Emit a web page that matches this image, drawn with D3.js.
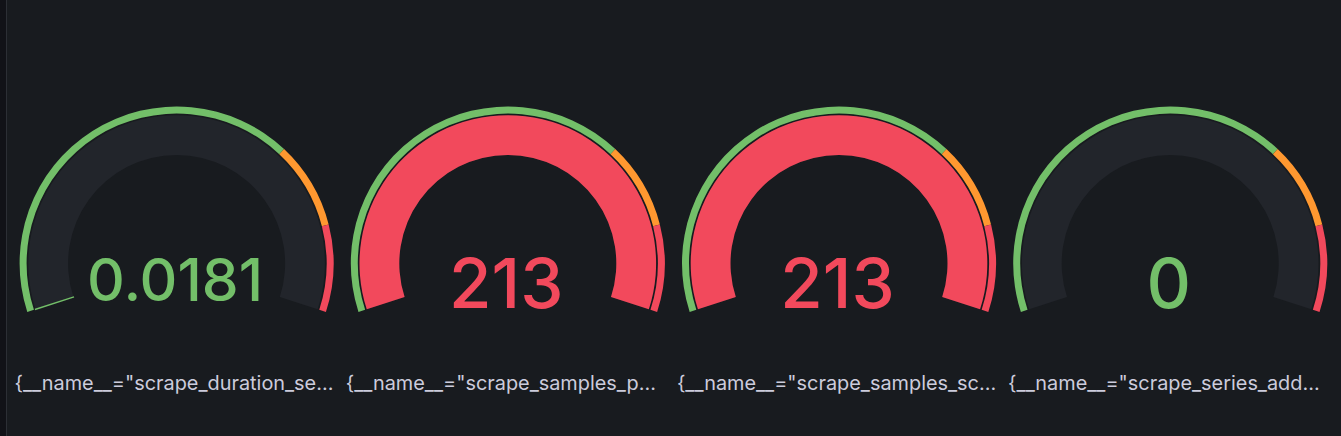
<!DOCTYPE html>
<html>
<head>
<meta charset="utf-8">
<script src="https://cdn.jsdelivr.net/npm/d3@7"></script>
<style>
  html, body { margin: 0; padding: 0; background: #181b1f; }
  svg { display: block; }
</style>
</head>
<body>
<svg id="chart" width="1341" height="436"></svg>
<script>
// ---- data ----
const seriesLabels = [
  '{__name__="scrape_duration_seconds", instance="localhost:9090", job="prometheus"}',
  '{__name__="scrape_samples_post_metric_relabeling", instance="localhost:9090", job="prometheus"}',
  '{__name__="scrape_samples_scraped", instance="localhost:9090", job="prometheus"}',
  '{__name__="scrape_series_added", instance="localhost:9090", job="prometheus"}'
];
const seriesValues = [0.0181, 213, 213, 0];
const gaugeRange = [0, 100];
const thresholdSteps = [0, 70, 85];
const thresholdColors = ["#73BF69", "#FF9830", "#F2495C"];

// ---- layout ----
const W = 1341, H = 436;
const svg = d3.select("#chart");
svg.append("rect").attr("width", 6).attr("height", H).attr("fill", "#111217");
svg.append("rect").attr("x", 6).attr("width", 1).attr("height", H).attr("fill", "#2c2f35");

const cellX0 = 11, cellW = 331.2;
const cy = 263.5;
const rOuter = 157, rThreshIn = 150, rValOut = 148.3, rValIn = 108.5;
const angle = d3.scaleLinear().domain(gaugeRange).range([-0.6 * Math.PI, 0.6 * Math.PI]).clamp(true);

function colorFor(v) {
  let c = thresholdColors[0];
  thresholdSteps.forEach((s, i) => { if (v >= s) c = thresholdColors[i]; });
  return c;
}

const arc = d3.arc();
const fontFamily = "Inter, 'Noto Sans', sans-serif";

// label font size: chosen so the truncated label width matches the panel look
const probe = svg.append("text").attr("font-family", fontFamily).attr("font-size", 18)
  .text('{__name__="scrape_duration_se...');
const labelFs = 18 * 319 / probe.node().getComputedTextLength();
probe.remove();

seriesValues.forEach((v, i) => {
  const cx = cellX0 + cellW * i + cellW / 2;
  const g = svg.append("g").attr("transform", `translate(${cx},${cy})`);

  // threshold band
  thresholdSteps.forEach((s, k) => {
    const end = k + 1 < thresholdSteps.length ? thresholdSteps[k + 1] : gaugeRange[1];
    g.append("path")
      .attr("d", arc({innerRadius: rThreshIn, outerRadius: rOuter, startAngle: angle(s), endAngle: angle(end)}))
      .attr("fill", thresholdColors[k]);
  });

  // background band
  g.append("path")
    .attr("d", arc({innerRadius: rValIn, outerRadius: rValOut, startAngle: angle(gaugeRange[0]), endAngle: angle(gaugeRange[1])}))
    .attr("fill", "#22252b");

  const col = colorFor(v);
  if (v > gaugeRange[0]) {
    g.append("path")
      .attr("d", arc({innerRadius: rValIn, outerRadius: rValOut, startAngle: angle(gaugeRange[0]), endAngle: angle(v)}))
      .attr("fill", col)
      .attr("stroke", col)
      .attr("stroke-width", angle(v) - angle(gaugeRange[0]) < 0.01 ? 1.3 : 0);
  }

  // value text
  const txt = String(v);
  const t = g.append("text")
    .attr("text-anchor", "middle")
    .attr("font-family", fontFamily)
    .attr("font-weight", 500)
    .attr("fill", col)
    .attr("font-size", 60)
    .text(txt);
  const w60 = t.node().getComputedTextLength();
  const fs = Math.min(69, 60 * 176 / w60);
  t.attr("font-size", fs).attr("x", -1.5).attr("y", -5.5 + 0.727 * fs);

  // label
  const lx = cellX0 + cellW * i + 3.5;
  const lab = svg.append("text")
    .attr("x", lx).attr("y", 390)
    .attr("font-family", fontFamily)
    .attr("font-size", labelFs)
    .attr("fill", "#ccccdc")
    .text(seriesLabels[i]);
  const maxW = cellW - 10;
  let s = seriesLabels[i];
  if (lab.node().getComputedTextLength() > maxW) {
    while (s.length > 0) {
      s = s.slice(0, -1);
      lab.text(s + "...");
      if (lab.node().getComputedTextLength() <= maxW) break;
    }
  }
});
</script>
</body>
</html>
